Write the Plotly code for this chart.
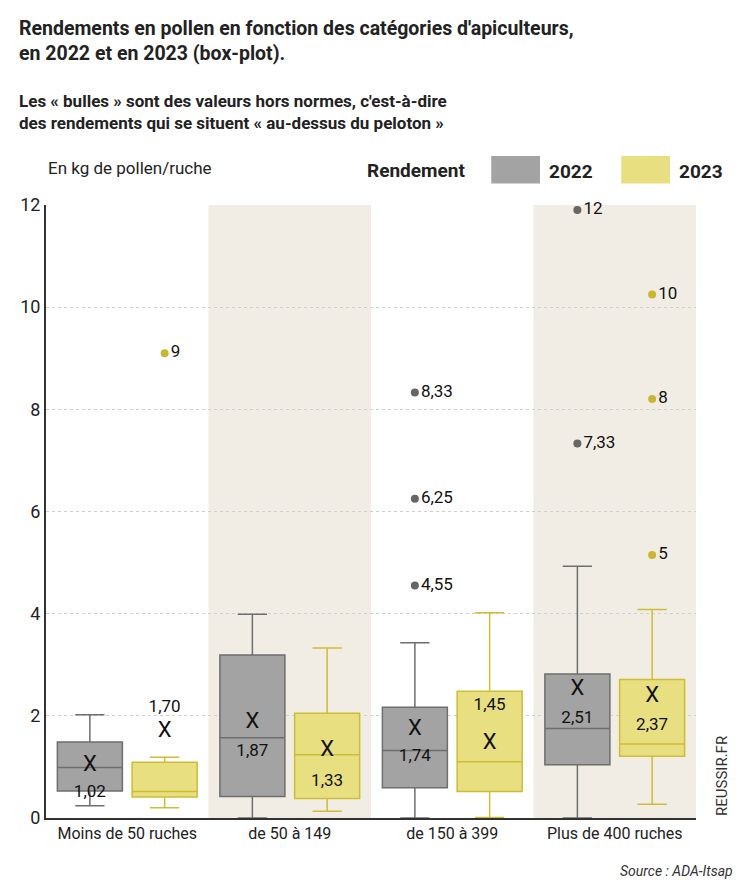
import plotly.graph_objects as go

categories = ["Moins de 50 ruches", "de 50 à 149", "de 150 à 399", "Plus de 400 ruches"]

lower_2022 = [0.24, 0.0, 0.0, 0.0]
q1_2022 = [0.53, 0.42, 0.59, 1.04]
median_2022 = [0.99, 1.57, 1.32, 1.75]
q3_2022 = [1.49, 3.19, 2.17, 2.82]
upper_2022 = [2.02, 3.99, 3.43, 4.93]
mean_2022 = [1.02, 1.87, 1.74, 2.51]

lower_2023 = [0.2, 0.13, 0.01, 0.27]
q1_2023 = [0.41, 0.38, 0.52, 1.21]
median_2023 = [0.52, 1.24, 1.1, 1.45]
q3_2023 = [1.09, 2.05, 2.48, 2.71]
upper_2023 = [1.19, 3.33, 4.02, 4.08]
mean_2023 = [1.70, 1.33, 1.45, 2.37]

out_2022_group = [2, 2, 2, 3, 3]
out_2022_vals = [4.55, 6.25, 8.33, 7.33, 11.9]
out_2022_text = ["4,55", "6,25", "8,33", "7,33", "12"]
out_2023_group = [0, 3, 3, 3]
out_2023_vals = [9.1, 5.15, 8.2, 10.25]
out_2023_text = ["9", "5", "8", "10"]

FONT = "Liberation Sans Narrow, Roboto, sans-serif"
GREY_FILL, GREY_LINE = "#a3a3a3", "#6e6e6e"
YEL_FILL, YEL_LINE = "#e8df80", "#cdbd35"
OFF = 0.23

fig = go.Figure()

# shaded columns
for i in (1, 3):
    fig.add_shape(type="rect", x0=i - 0.5, x1=i + 0.5, y0=0, y1=12, yref="y",
                  fillcolor="#f1ede5", line_width=0, layer="below")

def add_boxes(sign, lo, q1, med, q3, up, fill, line):
    fig.add_trace(go.Box(
        x=[i + sign * OFF for i in range(4)], lowerfence=lo, q1=q1, median=med,
        q3=q3, upperfence=up, width=0.4, fillcolor=fill,
        line=dict(color=line, width=1.5), whiskerwidth=0.45,
        boxpoints=False, hoverinfo="skip", showlegend=False))

add_boxes(-1, lower_2022, q1_2022, median_2022, q3_2022, upper_2022, GREY_FILL, GREY_LINE)
add_boxes(1, lower_2023, q1_2023, median_2023, q3_2023, upper_2023, YEL_FILL, YEL_LINE)

# mean markers "X"
for sign, means in ((-1, mean_2022), (1, mean_2023)):
    fig.add_trace(go.Scatter(
        x=[i + sign * OFF for i in range(4)], y=means, mode="text", text=["X"] * 4,
        textfont=dict(size=22, family=FONT, color="#111"), showlegend=False, hoverinfo="skip"))

# mean value labels
label_2022_y = [0.5, 1.3, 1.2, 1.95]
label_2023_y = [2.15, 0.7, 2.2, 1.8]
fig.add_trace(go.Scatter(
    x=[i - OFF for i in range(4)], y=label_2022_y, mode="text",
    text=[f"{v:.2f}".replace(".", ",") for v in mean_2022],
    textfont=dict(size=17, family=FONT, color="#111"), showlegend=False, hoverinfo="skip"))
fig.add_trace(go.Scatter(
    x=[i + OFF for i in range(4)], y=label_2023_y, mode="text",
    text=[f"{v:.2f}".replace(".", ",") for v in mean_2023],
    textfont=dict(size=17, family=FONT, color="#111"), showlegend=False, hoverinfo="skip"))

# outliers
for grp, vals, txt, col, sign in ((out_2022_group, out_2022_vals, out_2022_text, "#666666", -1),
                                  (out_2023_group, out_2023_vals, out_2023_text, "#c9b82e", 1)):
    fig.add_trace(go.Scatter(
        x=[g + sign * OFF for g in grp], y=vals, mode="markers+text", text=txt,
        textposition="middle right", marker=dict(size=8, color=col), cliponaxis=False,
        textfont=dict(size=17, family=FONT, color="#111"), showlegend=False, hoverinfo="skip"))

fig.update_layout(
    width=747, height=891, plot_bgcolor="white", paper_bgcolor="white",
    margin=dict(l=35, r=59, t=197, b=81),
    font=dict(family=FONT, color="#222"),
    xaxis=dict(range=[-0.5, 3.5], tickvals=[0, 1, 2, 3], ticktext=categories,
               tickfont=dict(size=16), showgrid=False, zeroline=False,
               showline=True, linecolor="#333", linewidth=2),
    yaxis=dict(range=[0, 12], dtick=2, tickfont=dict(size=18, color="#222"),
               gridcolor="#cfcfcf", griddash="dot", zeroline=False,
               showline=True, linecolor="#333", linewidth=2, ticklen=0),
)
for i in range(5):
    fig.add_shape(type="line", x0=i - 0.5, x1=i - 0.5, y0=0, y1=-0.3, yref="y",
                  line=dict(color="#333", width=2))

fig.add_annotation(xref="paper", yref="paper", x=-0.045, y=1.31, xanchor="left", yanchor="top",
                   align="left", showarrow=False,
                   text="<b>Rendements en pollen en fonction des catégories d'apiculteurs,<br>en 2022 et en 2023 (box-plot).</b>",
                   font=dict(size=19.5, color="#222"))
fig.add_annotation(xref="paper", yref="paper", x=-0.045, y=1.19, xanchor="left", yanchor="top",
                   align="left", showarrow=False,
                   text="<b>Les « bulles » sont des valeurs hors normes, c'est-à-dire<br>des rendements qui se situent « au-dessus du peloton »</b>",
                   font=dict(size=17, color="#222"))
fig.add_annotation(xref="paper", yref="paper", x=0.0, y=1.04, xanchor="left", yanchor="bottom",
                   showarrow=False, text="En kg de pollen/ruche", font=dict(size=17))
fig.add_annotation(xref="paper", yref="paper", x=0.49, y=1.035, xanchor="left", yanchor="bottom",
                   showarrow=False, text="<b>Rendement</b>", font=dict(size=19))
for x0, col, lab in ((0.685, GREY_FILL, "2022"), (0.885, YEL_FILL, "2023")):
    fig.add_shape(type="rect", xref="paper", yref="paper", x0=x0, x1=x0 + 0.075,
                  y0=1.035, y1=1.08, fillcolor=col, line_width=0)
    fig.add_annotation(xref="paper", yref="paper", x=x0 + 0.085, y=1.033, xanchor="left",
                       yanchor="bottom", showarrow=False, text="<b>" + lab + "</b>",
                       font=dict(size=19))
fig.add_annotation(xref="paper", yref="paper", x=1.04, y=0.0, xanchor="center", yanchor="bottom",
                   showarrow=False, textangle=-90, text="REUSSIR.FR", font=dict(size=15, color="#333"))
fig.add_annotation(xref="paper", yref="paper", x=1.06, y=-0.07, xanchor="right", yanchor="top",
                   showarrow=False, text="<i>Source : ADA-Itsap</i>", font=dict(size=14, color="#333"))

fig.write_html("out.html")
